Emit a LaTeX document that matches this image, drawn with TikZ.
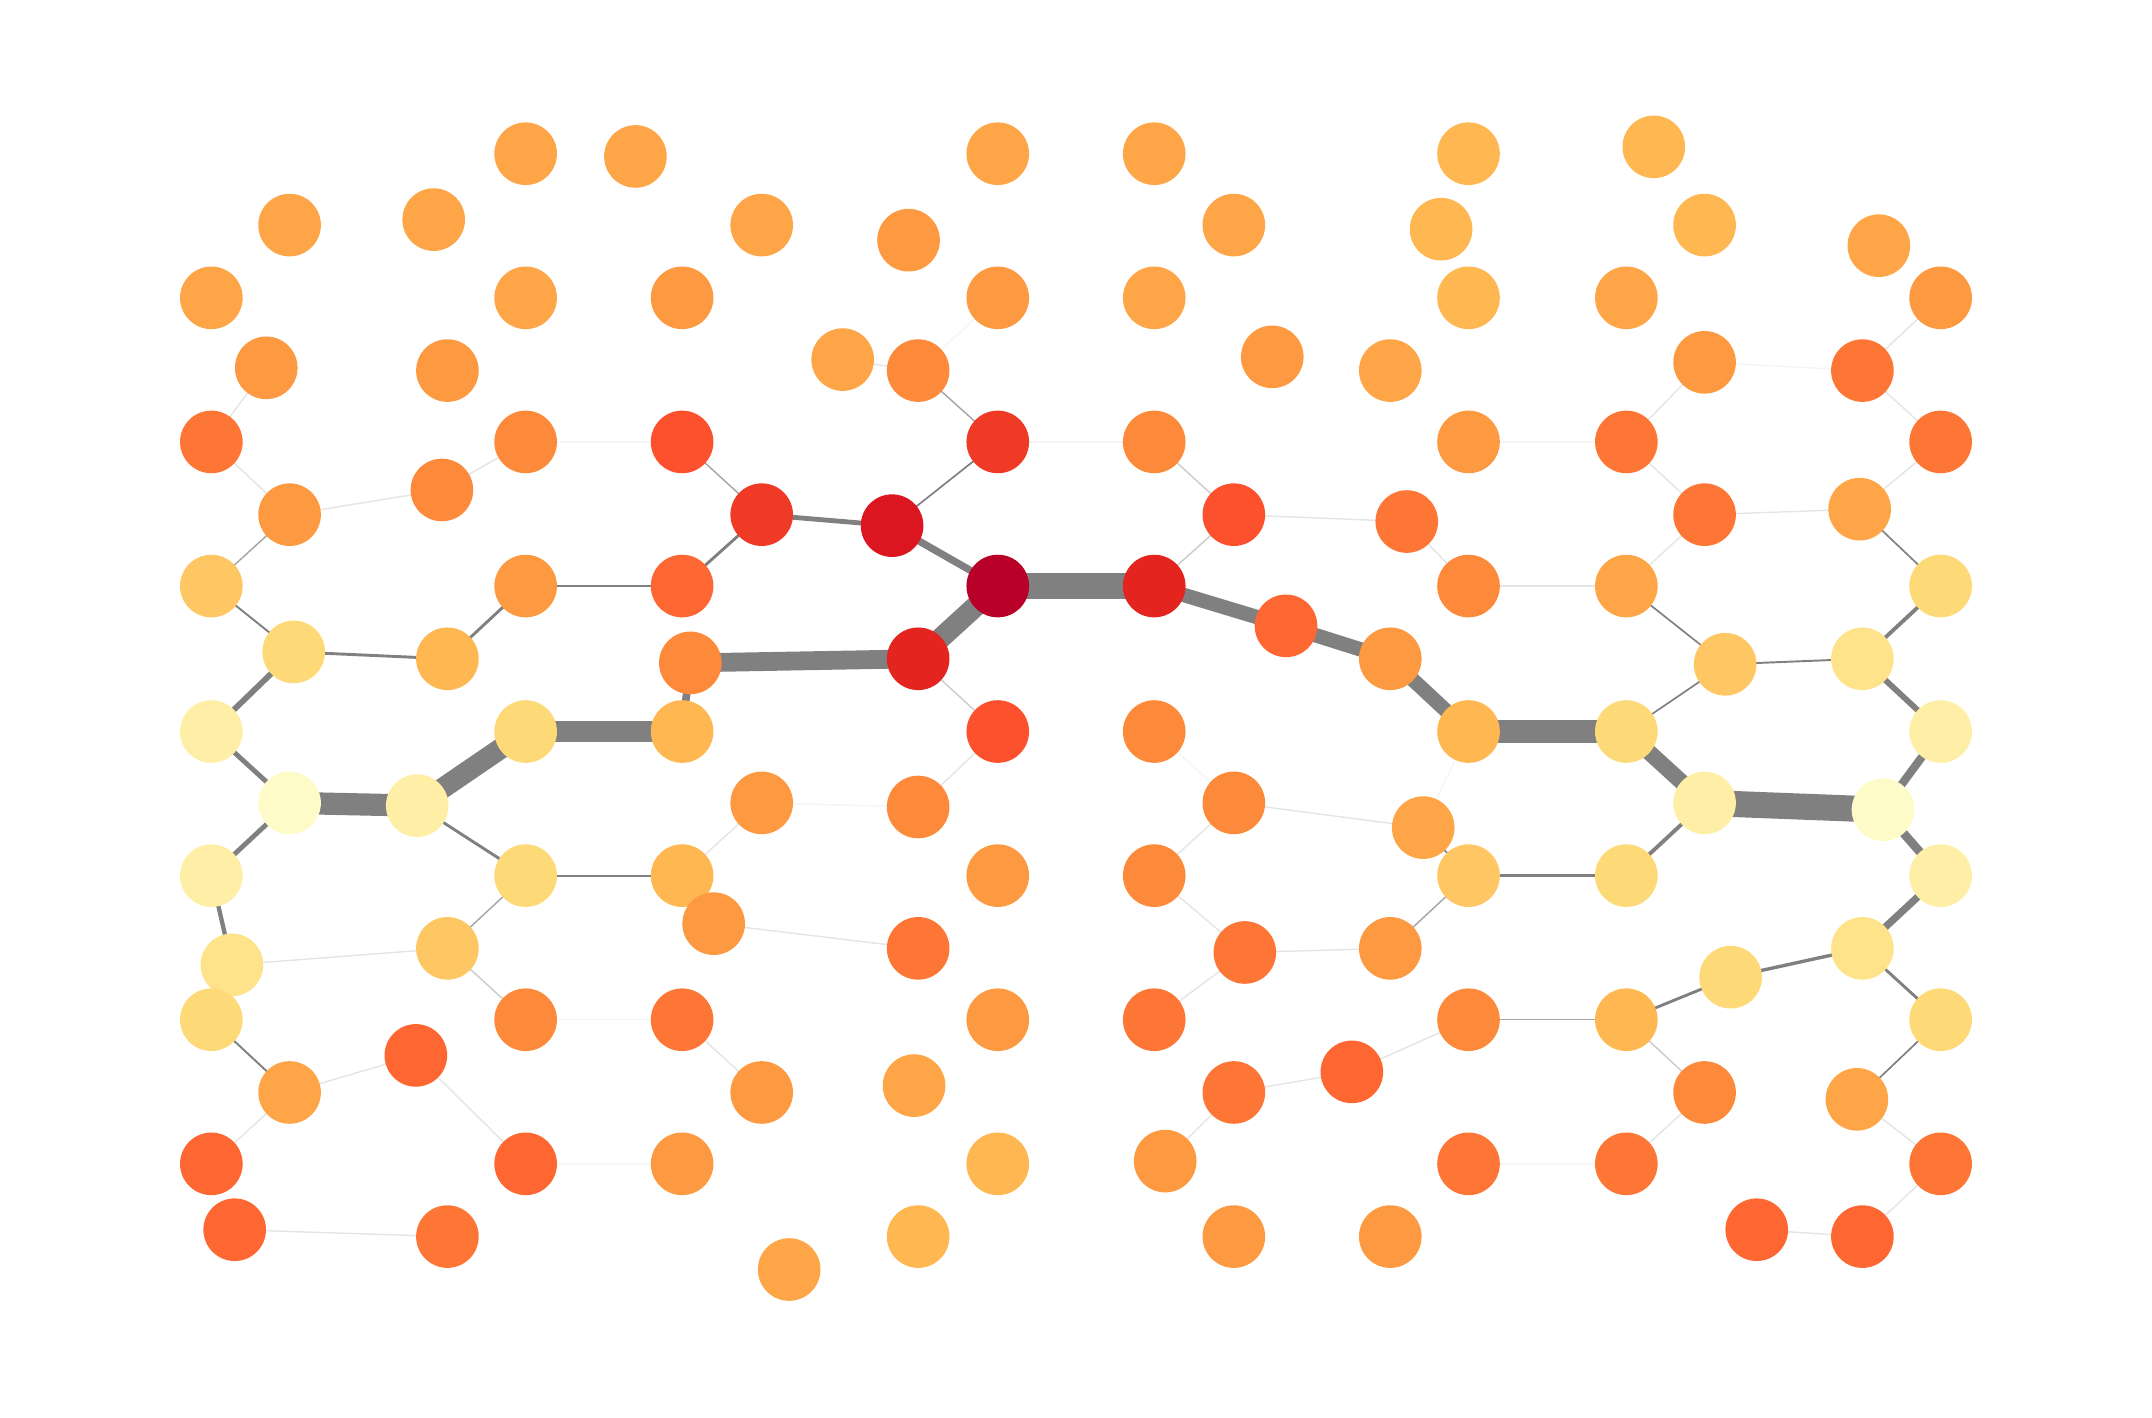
\documentclass[tikz,border=0pt]{standalone}
\usetikzlibrary{backgrounds}
\definecolor{v1}{HTML}{FFFBC8}
\definecolor{v2}{HTML}{FFEFA6}
\definecolor{v3}{HTML}{FEE38A}
\definecolor{v4}{HTML}{FED978}
\definecolor{v5}{HTML}{FEC764}
\definecolor{v6}{HTML}{FEB751}
\definecolor{v7}{HTML}{FEA647}
\definecolor{v8}{HTML}{FD9941}
\definecolor{v9}{HTML}{FD8A3B}
\definecolor{v10}{HTML}{FE7636}
\definecolor{v11}{HTML}{FE6632}
\definecolor{v12}{HTML}{FD502C}
\definecolor{v13}{HTML}{EF3A26}
\definecolor{v14}{HTML}{E3241F}
\definecolor{v15}{HTML}{DB1620}
\definecolor{v16}{HTML}{B80028}
\begin{document}
\begin{tikzpicture}[x=0.01cm, y=-0.01cm,
    every node/.style={circle, inner sep=0pt, minimum size=0.456cm},
    c/.style={fill=v#1},
    ew/.style={gray, line width=#1},
    ef/.style={gray!#1, line width=0.3pt}]
      \useasboundingbox (0,0) rectangle (1568,1033);
      \draw
        (383,112) node[c=7] (0){}
        (463,114) node[c=7] (1){}
        (211,164) node[c=7] (2){}
        (316,160) node[c=7] (3){}
        (154,217) node[c=7] (4){}
        (383,217) node[c=7] (5){}
        (497,217) node[c=8] (6){}
        (194,268) node[c=8] (7){}
        (326,270) node[c=8] (8){}
        (154,322) node[c=10] (9){}
        (383,322) node[c=9] (10){}
        (497,322) node[c=12] (11){}
        (211,375) node[c=8] (12){}
        (322,357) node[c=9] (13){}
        (154,427) node[c=5] (14){}
        (383,427) node[c=8] (15){}
        (497,427) node[c=11] (16){}
        (214,475) node[c=4] (17){}
        (326,480) node[c=6] (18){}
        (503,483) node[c=9] (19){}
        (154,533) node[c=2] (20){}
        (383,533) node[c=4] (21){}
        (497,533) node[c=6] (22){}
        (211,585) node[c=1] (23){}
        (304,587) node[c=2] (24){}
        (154,638) node[c=2] (25){}
        (383,638) node[c=4] (26){}
        (497,638) node[c=6] (27){}
        (520,673) node[c=8] (28){}
        (169,703) node[c=3] (29){}
        (326,691) node[c=5] (30){}
        (154,743) node[c=4] (31){}
        (383,743) node[c=9] (32){}
        (497,743) node[c=10] (33){}
        (211,796) node[c=7] (34){}
        (303,769) node[c=11] (35){}
        (154,848) node[c=11] (36){}
        (383,848) node[c=11] (37){}
        (497,848) node[c=8] (38){}
        (171,896) node[c=11] (39){}
        (326,901) node[c=10] (40){}
        (555,164) node[c=7] (41){}
        (662,175) node[c=8] (42){}
        (727,112) node[c=7] (43){}
        (841,112) node[c=7] (44){}
        (899,164) node[c=7] (45){}
        (727,217) node[c=8] (46){}
        (841,217) node[c=7] (47){}
        (614,262) node[c=7] (48){}
        (669,270) node[c=9] (49){}
        (727,322) node[c=13] (50){}
        (841,322) node[c=9] (51){}
        (555,375) node[c=13] (52){}
        (650,383) node[c=15] (53){}
        (899,375) node[c=12] (54){}
        (727,427) node[c=16] (55){}
        (841,427) node[c=14] (56){}
        (669,480) node[c=14] (57){}
        (727,533) node[c=12] (58){}
        (841,533) node[c=9] (59){}
        (555,585) node[c=8] (60){}
        (669,588) node[c=9] (61){}
        (899,585) node[c=9] (62){}
        (727,638) node[c=8] (63){}
        (841,638) node[c=9] (64){}
        (669,691) node[c=10] (65){}
        (907,694) node[c=10] (66){}
        (727,743) node[c=8] (67){}
        (841,743) node[c=10] (68){}
        (555,796) node[c=8] (69){}
        (666,791) node[c=7] (70){}
        (899,796) node[c=10] (71){}
        (727,848) node[c=6] (72){}
        (849,846) node[c=8] (73){}
        (575,925) node[c=7] (74){}
        (669,901) node[c=6] (75){}
        (899,901) node[c=8] (76){}
        (1070,112) node[c=6] (77){}
        (1050,167) node[c=6] (78){}
        (1070,217) node[c=6] (79){}
        (927,260) node[c=8] (80){}
        (1013,270) node[c=7] (81){}
        (1070,322) node[c=8] (82){}
        (1025,380) node[c=10] (83){}
        (1070,427) node[c=9] (84){}
        (937,456) node[c=11] (85){}
        (1013,480) node[c=8] (86){}
        (1070,533) node[c=6] (87){}
        (1037,603) node[c=7] (88){}
        (1070,638) node[c=5] (89){}
        (1013,691) node[c=8] (90){}
        (1070,743) node[c=9] (91){}
        (985,781) node[c=11] (92){}
        (1070,848) node[c=10] (93){}
        (1013,901) node[c=8] (94){}
        (1205,107) node[c=6] (95){}
        (1242,164) node[c=6] (96){}
        (1185,217) node[c=7] (97){}
        (1242,264) node[c=8] (98){}
        (1185,322) node[c=10] (99){}
        (1242,375) node[c=10] (100){}
        (1185,427) node[c=7] (101){}
        (1257,484) node[c=5] (102){}
        (1185,533) node[c=4] (103){}
        (1242,585) node[c=2] (104){}
        (1185,638) node[c=4] (105){}
        (1261,712) node[c=4] (106){}
        (1185,743) node[c=6] (107){}
        (1242,796) node[c=9] (108){}
        (1185,848) node[c=10] (109){}
        (1280,896) node[c=11] (110){}
        (1369,179) node[c=7] (111){}
        (1414,217) node[c=8] (112){}
        (1357,270) node[c=10] (113){}
        (1414,322) node[c=10] (114){}
        (1355,371) node[c=7] (115){}
        (1414,427) node[c=4] (116){}
        (1357,480) node[c=3] (117){}
        (1414,533) node[c=2] (118){}
        (1372,590) node[c=1] (119){}
        (1414,638) node[c=2] (120){}
        (1357,691) node[c=3] (121){}
        (1414,743) node[c=4] (122){}
        (1353,801) node[c=7] (123){}
        (1414,848) node[c=10] (124){}
        (1357,901) node[c=11] (125){};
      \begin{scope}[on background layer]
        % heavy path
        \draw[ew=4.6pt] (23.center) to (24.center);
        \draw[ew=4.3pt] (24.center) to (21.center);
        \draw[ew=4.5pt] (21.center) to (22.center);
        \draw[ew=1.6pt] (22.center) to (19.center);
        \draw[ew=3.9pt] (19.center) to (57.center);
        \draw[ew=4.3pt] (57.center) to (55.center);
        \draw[ew=5.2pt] (55.center) to (56.center);
        \draw[ew=3pt] (56.center) to (85.center);
        \draw[ew=3pt] (85.center) to (86.center);
        \draw[ew=3pt] (86.center) to (87.center);
        \draw[ew=4.8pt] (87.center) to (103.center);
        \draw[ew=3.3pt] (103.center) to (104.center);
        \draw[ew=5.4pt] (104.center) to (119.center);
        % medium
        \draw[ew=1.5pt] (53.center) to (55.center);
        \draw[ew=1pt] (52.center) to (53.center);
        \draw[ew=1.7pt] (119.center) to (118.center);
        \draw[ew=1.8pt] (119.center) to (120.center);
        \draw[ew=1.5pt] (120.center) to (121.center);
        \draw[ew=1.2pt] (117.center) to (118.center);
        \draw[ew=1.2pt] (17.center) to (20.center);
        \draw[ew=1pt] (20.center) to (23.center);
        \draw[ew=1pt] (23.center) to (25.center);
        \draw[ew=0.9pt] (25.center) to (29.center);
        \draw[ew=0.8pt] (116.center) to (117.center);
        \draw[ew=0.8pt] (104.center) to (105.center);
        \draw[ew=0.6pt] (17.center) to (18.center);
        \draw[ew=0.6pt] (18.center) to (15.center);
        \draw[ew=0.5pt] (15.center) to (16.center);
        \draw[ew=0.6pt] (16.center) to (52.center);
        \draw[ew=0.6pt] (24.center) to (26.center);
        \draw[ew=0.4pt] (26.center) to (27.center);
        \draw[ew=0.6pt] (107.center) to (106.center);
        \draw[ew=0.7pt] (106.center) to (121.center);
        \draw[ew=0.6pt] (121.center) to (122.center);
        \draw[ew=0.5pt] (89.center) to (105.center);
        \draw[ew=0.4pt] (31.center) to (34.center);
        \draw[ew=0.4pt] (14.center) to (17.center);
        \draw[ew=0.4pt] (102.center) to (117.center);
        \draw[ew=0.35pt] (115.center) to (116.center);
        \draw[ew=0.35pt] (101.center) to (102.center);
        \draw[ew=0.35pt] (102.center) to (103.center);
        \draw[ew=0.35pt] (122.center) to (123.center);
        \draw[ew=0.35pt] (50.center) to (53.center);
        \draw[ew=0.35pt] (88.center) to (89.center);
        % thin
        \draw[ef=70] (12.center) to (14.center);
        \draw[ef=70] (26.center) to (30.center);
        \draw[ef=70] (49.center) to (50.center);
        \draw[ef=70] (11.center) to (52.center);
        \draw[ef=70] (89.center) to (90.center);
        \draw[ef=70] (91.center) to (107.center);
        \draw[ef=40] (57.center) to (58.center);
        \draw[ef=40] (51.center) to (54.center);
        \draw[ef=40] (54.center) to (56.center);
        \draw[ef=40] (30.center) to (32.center);
        \draw[ef=40] (107.center) to (108.center);
        % faint
        \draw[ef=20] (7.center) to (9.center);
        \draw[ef=20] (9.center) to (12.center);
        \draw[ef=20] (12.center) to (13.center);
        \draw[ef=20] (13.center) to (10.center);
        \draw[ef=20] (29.center) to (30.center);
        \draw[ef=20] (34.center) to (35.center);
        \draw[ef=20] (34.center) to (36.center);
        \draw[ef=20] (35.center) to (37.center);
        \draw[ef=20] (39.center) to (40.center);
        \draw[ef=20] (48.center) to (49.center);
        \draw[ef=20] (27.center) to (60.center);
        \draw[ef=20] (28.center) to (65.center);
        \draw[ef=20] (33.center) to (69.center);
        \draw[ef=20] (62.center) to (64.center);
        \draw[ef=20] (64.center) to (66.center);
        \draw[ef=20] (68.center) to (66.center);
        \draw[ef=20] (71.center) to (73.center);
        \draw[ef=20] (62.center) to (88.center);
        \draw[ef=20] (66.center) to (90.center);
        \draw[ef=20] (108.center) to (109.center);
        \draw[ef=20] (92.center) to (91.center);
        \draw[ef=20] (71.center) to (92.center);
        \draw[ef=20] (99.center) to (98.center);
        \draw[ef=20] (99.center) to (100.center);
        \draw[ef=20] (100.center) to (101.center);
        \draw[ef=20] (100.center) to (115.center);
        \draw[ef=20] (54.center) to (83.center);
        \draw[ef=20] (83.center) to (84.center);
        \draw[ef=20] (84.center) to (101.center);
        \draw[ef=20] (112.center) to (113.center);
        \draw[ef=20] (113.center) to (114.center);
        \draw[ef=20] (114.center) to (115.center);
        \draw[ef=20] (123.center) to (124.center);
        \draw[ef=20] (124.center) to (125.center);
        \draw[ef=20] (110.center) to (125.center);
        \draw[ef=20] (58.center) to (61.center);
        \draw[ef=8] (10.center) to (11.center);
        \draw[ef=8] (32.center) to (33.center);
        \draw[ef=8] (37.center) to (38.center);
        \draw[ef=8] (49.center) to (46.center);
        \draw[ef=8] (50.center) to (51.center);
        \draw[ef=8] (60.center) to (61.center);
        \draw[ef=8] (59.center) to (62.center);
        \draw[ef=8] (87.center) to (88.center);
        \draw[ef=8] (93.center) to (109.center);
        \draw[ef=8] (82.center) to (99.center);
        \draw[ef=8] (98.center) to (113.center);
      \end{scope}
    \end{tikzpicture}
\end{document}
